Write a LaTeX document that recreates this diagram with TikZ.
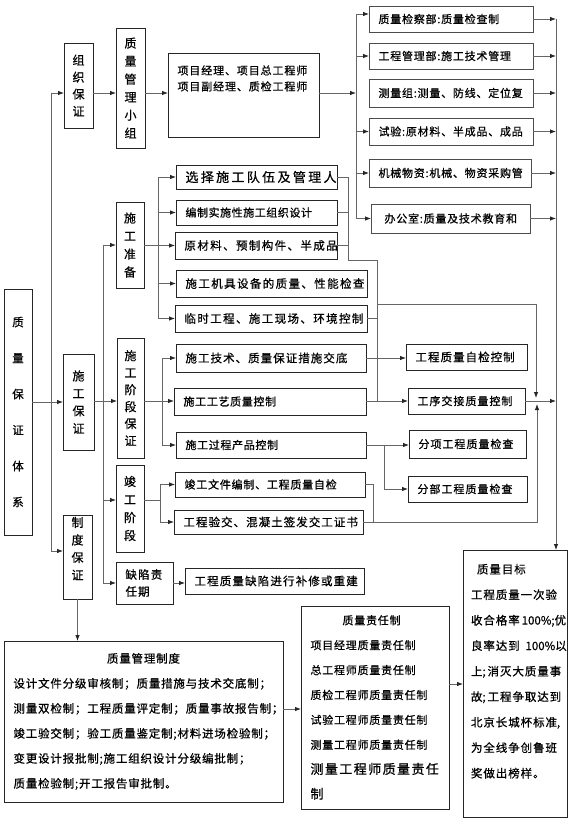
\documentclass[tikz,border=0pt]{standalone}
\usepackage{fontspec}
\newfontfamily\cjk{Noto Sans CJK SC}[FakeBold=0.7]
\usetikzlibrary{arrows.meta,calc}
\newcommand\F[3][14]{\cjk\fontsize{#2}{#1}\selectfont\addfontfeature{LetterSpace=#3}}
\newcommand\nls[1]{\hbox{\addfontfeature{LetterSpace=0}#1}}
\def\padx{9.5}
\newcommand{\bx}[7][]{%
  \pgfmathsetmacro\bxw{(#5)-(#3)}\pgfmathsetmacro\bxh{(#6)-(#4)}%
  \pgfmathsetmacro\bxx{((#3)+(#5))/2}\pgfmathsetmacro\bxy{((#4)+(#6))/2}%
  \pgfmathsetmacro\bxt{\bxw-2*\padx}%
  \node[box,inner xsep=\padx pt,minimum width=\bxw pt,minimum height=\bxh pt,text width=\bxt pt,align=left,#1] (#2) at (\bxx,\bxy) {#7};}
\newcommand{\vb}[7][]{%
  \pgfmathsetmacro\bxw{(#5)-(#3)}\pgfmathsetmacro\bxh{(#6)-(#4)}%
  \pgfmathsetmacro\bxx{((#3)+(#5))/2}\pgfmathsetmacro\bxy{((#4)+(#6))/2}%
  \node[box,inner sep=0pt,minimum width=\bxw pt,minimum height=\bxh pt,align=center,#1] (#2) at (\bxx,\bxy) {#7};}
\tikzset{
  box/.style={draw=black!85,line width=0.8pt,inner ysep=1pt,outer sep=0pt,text=black},
  rbox/.style={draw=black!70,font={\F{11}{7}}},
  ln/.style={draw=black!60,line width=0.8pt},
  arr/.style={ln,-{Latex[length=6pt,width=4.5pt,color=black!85]}},
}
\begin{document}
\begin{tikzpicture}[x=1pt,y=-1pt]
\fill[white] (0,0) rectangle (575,821);
\useasboundingbox (0,0) rectangle (575,821);

% vertical boxes
\vb[font={\F[36]{11.5}{0}}]{xt}{4}{289}{32}{535}{质\\量\\保\\证\\体\\系}
\vb[font={\F[17]{12}{0}}]{org}{64}{43}{93}{128}{组\\织\\保\\证}
\vb[font={\F[17.5]{12}{0}}]{sg}{63}{354}{94}{450}{施\\工\\保\\证}
\vb[font={\F[17.5]{12}{0}}]{zhidu}{63}{515}{92}{599}{制\\度\\保\\证\\\mbox{}}
\vb[font={\F[18]{12}{0}}]{grp}{116}{28}{145}{148}{质\\量\\管\\理\\小\\组}
\vb[font={\F[18]{12}{0}}]{zb}{116}{202}{144}{288}{施\\工\\准\\备}
\vb[font={\F[17]{12}{0}}]{sjd}{117}{338}{144}{458}{施\\工\\阶\\段\\保\\证}
\vb[font={\F[18]{12}{0}}]{jg}{116}{465}{144}{552}{竣\\工\\阶\\段}

% top group
\bx[font={\F[16]{11}{8}}]{pm}{168}{53}{319}{137}{项目经理、项目总工程师\\项目副经理、质检工程师\\[18pt]\mbox{}}
\bx[rbox]{rq}{369}{6}{533}{32}{质量检察部:质量检查制}
\bx[rbox]{rg}{369}{43}{533}{69}{工程管理部:施工技术管理}
\bx[rbox]{rc}{369}{79}{533}{107}{测量组:测量、防线、定位复}
\bx[rbox]{rs}{369}{118}{533}{145}{试验:原材料、半成品、成品}
\bx[rbox]{rj}{369}{159}{531}{187}{机械物资:机械、物资采购管}
\bx[rbox]{rb}{371}{204}{530}{233}{\hspace*{4pt}办公室:质量及技术教育和}

% construction preparation
\bx[font={\F{13}{18}}]{a1}{176}{165}{337}{189}{选择施工队伍及管理人}
\bx[font={\F{11}{5}}]{a2}{176}{200}{337}{225}{编制实施性施工组织设计}
\bx[font={\F{11.5}{12}}]{a3}{175}{232}{337}{259}{原材料、预制构件、半成品}
\bx[font={\F{11.5}{12}}]{a4}{176}{270}{367}{297}{施工机具设备的质量、性能检查}
\bx[font={\F{11.5}{12}}]{a5}{175}{305}{367}{332}{临时工程、施工现场、环境控制}

% construction stage
\bx[font={\F{11.5}{9}}]{b1}{176}{344}{366}{372}{施工技术、质量保证措施交底}
\bx[font={\F{11}{6}}]{b2}{174}{388}{366}{415}{施工工艺质量控制}
\bx[font={\F{11}{6}}]{b3}{176}{432}{366}{458}{施工过程产品控制}
\bx[font={\F{11.5}{9}}]{c1}{406}{344}{527}{370}{工程质量自检控制}
\bx[font={\F{11}{9}}]{c2}{408}{388}{525}{414}{工序交接质量控制}
\bx[font={\F{11}{9}}]{c3}{409}{430}{526}{458}{分项工程质量检查}
\bx[font={\F{11}{9}}]{c4}{408}{476}{527}{502}{分部工程质量检查}

% completion
\bx[font={\F{11}{7}}]{d1}{175}{472}{365}{497}{竣工文件编制、工程质量自检}
\bx[font={\F{11.5}{9}}]{d2}{174}{510}{363}{534}{工程验交、混凝土签发交工证书}
\bx[font={\F[17]{11.5}{10}}]{qx}{116}{562}{173}{604}{缺陷责\\任期}
\bx[font={\F{11.5}{10}}]{rep}{185}{568}{364}{594}{工程质量缺陷进行补修或重建}

% bottom
\bx[font={\F[25]{11.5}{7}}]{zd}{4}{641}{283}{802}{\hfill 质量管理制度\hfill\mbox{}\\设计文件分级审核制；质量措施与技术交底制；\\测量双检制；工程质量评定制；质量事故报告制；\\竣工验交制；验工质量鉴定制;材料进场检验制；\\变更设计报批制;施工组织设计分级编批制；\\质量检验制;开工报告审批制。}
\bx[font={\F[24.9]{11}{7}}]{zr}{301}{606}{449}{809}{\hspace*{32pt}质量责任制\\项目经理质量责任制\\总工程师质量责任制\\质检工程师质量责任制\\试验工程师质量责任制\\测量工程师质量责任制\\{\F[24.9]{13}{11}测量工程师质量责任}\\{\F[24.9]{13}{11}制}}
\bx[font={\F[25.5]{11.5}{8}},inner xsep=8pt,text width=88pt]{goal}{463}{550}{567}{817}{\hspace*{6pt}质量目标\\工程质量一次验\\收合格率\nls{\,100\%;}优\\良率达到\nls{\ \,100\%}以\\上\nls{;\,}消灭大质量事\\故\nls{;\,}工程争取达到\\北京长城杯标准\nls{,}\\为全线争创鲁班\\奖做出榜样。\\\mbox{}}

% ---- connectors ----
\coordinate (A1) at (51,93);
\coordinate (A3) at (51,551);
\draw[ln] (A1) -- (A3);
\draw[arr] (A1) -- (A1 -| org.west);
\draw[arr] (A3) -- (A3 -| zhidu.west);
\draw[arr] (sg.west -| xt.east) -- (sg.west);
\draw[arr] (A1 -| org.east) -- (A1 -| grp.west);
\draw[arr] (A1 -| grp.east) -- (A1 -| pm.west);

\coordinate (B0) at (356,93);
\coordinate (Bt) at (356,14);
\coordinate (Bb) at (356,218);
\draw[arr] (B0 -| pm.east) -- (B0);
\draw[ln] (Bt) -- (Bb);
\draw[arr] (Bt) -- (Bt -| rq.west);
\foreach \n in {rg,rs,rj,rb} \draw[arr] (Bt |- \n.west) -- (\n.west);

\coordinate (Ct) at (556,19);
\foreach \n in {rq,rg,rc,rs,rj,rb} \draw[arr] (\n.east) -- (Ct |- \n.east);
\draw[arr] (Ct) -- (Ct |- goal.north);

\coordinate (Dt) at (103,245);
\coordinate (D3) at (103,500);
\coordinate (Db) at (103,583);
\draw[ln] (Dt) -- (Db);
\draw[arr] (Dt) -- (Dt -| zb.west);
\draw[arr] (D3) -- (D3 -| jg.west);
\draw[arr] (Db) -- (Db -| qx.west);
\coordinate (L) at (0,401);
\draw[arr] (sg.east |- L) -- (sjd.west |- L);

\coordinate (E) at (158,0);
\draw[ln] (E |- a1.west) -- (E |- a5.west);
\foreach \n in {a1,a2,a3,a4,a5} \draw[arr] (E |- \n.west) -- (\n.west);
\draw[ln] (zb.east) -- (E |- zb.east);

\coordinate (F) at (348,0);
\coordinate (F2) at (348,260);
\coordinate (G) at (377,0);
\coordinate (G2) at (377,260);
\coordinate (G3) at (377,304);
\coordinate (K1) at (536,304);
\foreach \n in {a1,a2,a3} \draw[ln] (\n.east) -- (F |- \n.east);
\draw[ln] (F |- a1.east) -- (F2) -- (G2) -- (G |- L);
\draw[ln] (a5.east) -- (G |- a5.east);
\draw[arr,shorten >=3pt] (G3) -- (K1) -- (K1 |- L);

\coordinate (H) at (162,0);
\draw[ln] (H |- b1.west) -- (H |- b3.west);
\draw[arr] (H |- b1.west) -- (b1.west);
\draw[arr] (H |- b3.west) -- (b3.west);
\draw[arr] (sjd.east |- L) -- (b2.west |- L);
\draw[arr] (b1.east) -- (b1.east -| c1.west);
\draw[arr] (b2.east |- L) -- (c2.west |- L);
\draw[arr] (c2.east |- L) -- (Ct |- L);
\draw[arr] (b3.east) -- (b3.east -| c3.west);
\coordinate (M) at (384,0);
\draw[arr] (M |- b3.east) -- (M |- c4.west) -- (c4.west);

\coordinate (I) at (160,0);
\draw[ln] (I |- d1.west) -- (I |- d2.west);
\draw[arr] (I |- d1.west) -- (d1.west);
\draw[arr] (I |- d2.west) -- (d2.west);
\draw[ln] (D3 -| jg.east) -- (D3 -| I);

\coordinate (N) at (373,0);
\coordinate (P) at (537,0);
\draw[ln] (d1.east) -- (N |- d1.east) -- (N |- d2.east);
\draw[ln] (d2.east) -- (N |- d2.east);
\draw[arr,shorten >=3pt] (N |- d2.east) -- (P |- d2.east) -- (P |- L);

\draw[arr] (qx.east) -- (qx.east -| rep.west);
\draw[arr] (zhidu.south) -- (zhidu.south |- zd.north);
\coordinate (Q) at (0,709);
\draw[arr] (Q -| zd.east) -- (Q -| zr.west);
\coordinate (R) at (0,684);
\draw[arr] (R -| zr.east) -- (R -| goal.west);
\end{tikzpicture}
\end{document}
